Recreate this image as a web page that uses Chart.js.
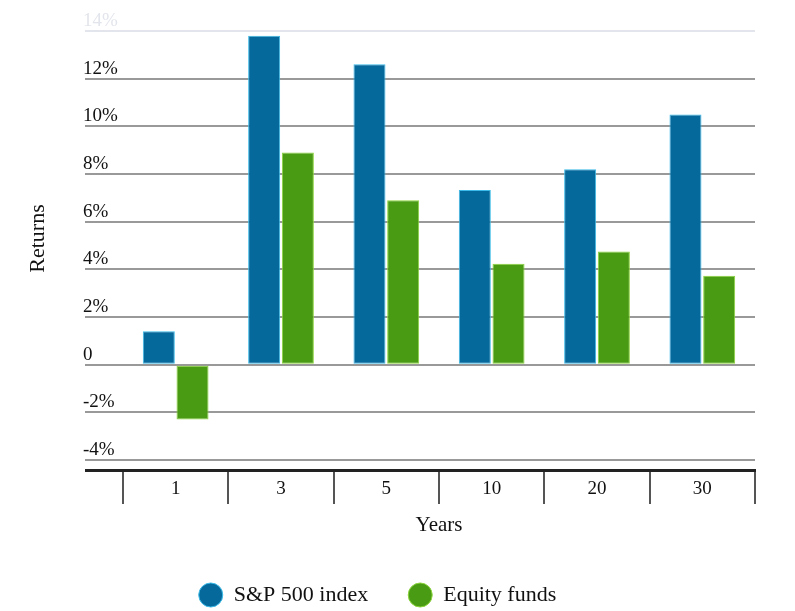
<!DOCTYPE html>
<html>
<head>
<meta charset="utf-8">
<script src="https://cdn.jsdelivr.net/npm/chart.js@4.4.0/dist/chart.umd.min.js"></script>
<style>
  html, body { margin: 0; padding: 0; background: #fff; }
  #wrap { width: 795px; height: 611px; }
</style>
</head>
<body>
<div id="wrap"><canvas id="chartRetornos"></canvas></div>
<script>
  // datos
  const years = ["1", "3", "5", "10", "20", "30"];
  const sp500 = [1.4, 13.8, 12.6, 7.33, 8.2, 10.5];
  const equityFunds = [-2.3, 8.9, 6.9, 4.23, 4.75, 3.73];
  const yTicks = [-4, -2, 0, 2, 4, 6, 8, 10, 12, 14];
  const yMin = -4.42;
  const yMax = 14;

  const serif = "'Liberation Serif', 'DejaVu Serif', serif";

  // titulo vertical "Returns"
  const returnsTitle = {
    id: "returnsTitle",
    afterDraw(chart) {
      const { ctx, chartArea } = chart;
      ctx.save();
      ctx.translate(38, (chartArea.top + chartArea.bottom) / 2 - 12);
      ctx.rotate(-Math.PI / 2);
      ctx.font = "22px " + serif;
      ctx.fillStyle = "#111";
      ctx.textAlign = "center";
      ctx.textBaseline = "middle";
      ctx.fillText("Returns", 0, 0);
      ctx.restore();
    }
  };

  document.addEventListener("DOMContentLoaded", () => {
    new Chart(document.getElementById("chartRetornos"), {
      type: "bar",
      data: {
        labels: years,
        datasets: [{
          label: "S&P 500 index",
          data: sp500,
          backgroundColor: "#06699c",
          borderColor: "#3cbbe8",
          borderWidth: 1,
          borderSkipped: false
        }, {
          label: "Equity funds",
          data: equityFunds,
          backgroundColor: "#489b12",
          borderColor: "#8cd43c",
          borderWidth: 1,
          borderSkipped: false
        }]
      },
      options: {
        responsive: true,
        maintainAspectRatio: false,
        animation: false,
        categoryPercentage: 0.64,
        barPercentage: 0.95,
        layout: { padding: { left: 0, right: 40, top: 31, bottom: -5 } },
        plugins: {
          tooltip: { enabled: false },
          legend: {
            position: "bottom",
            labels: {
              usePointStyle: true,
              pointStyle: "circle",
              pointStyleWidth: 24,
              boxHeight: 17,
              color: "#111",
              padding: 40,
              font: { family: serif, size: 22 }
            }
          }
        },
        scales: {
          x: {
            offset: true,
            grid: {
              offset: true,
              drawOnChartArea: false,
              drawTicks: true,
              tickLength: 34,
              color: "#555",
              lineWidth: 2
            },
            border: { display: true, color: "#222", width: 3 },
            ticks: {
              color: "#111",
              padding: -26,
              font: { family: serif, size: 19 }
            },
            title: {
              display: true,
              text: "Years",
              color: "#111",
              padding: { top: 38, bottom: 6 },
              font: { family: serif, size: 21 }
            }
          },
          y: {
            min: yMin,
            max: yMax,
            afterBuildTicks: (scale) => {
              scale.ticks = [yMin, ...yTicks].map(v => ({ value: v }));
            },
            afterFit: (scale) => { scale.width = 40; },
            border: { display: false },
            grid: {
              drawTicks: true,
              tickLength: 38,
              color: (c) => c.tick.value === yMin ? "#222" : (c.tick.value === 14 ? "#e3e5ec" : "#999"),
              lineWidth: (c) => c.tick.value === yMin ? 3 : 2
            },
            ticks: {
              crossAlign: "far",
              labelOffset: -10,
              padding: 0,
              color: (c) => c.tick.value === 14 ? "#e3e5ec" : "#111",
              font: { family: serif, size: 19 },
              callback: (v) => v === yMin ? "" : (v === 0 ? "0" : v + "%")
            }
          },
          // espacio a la izquierda del eje y
          margen: {
            type: "linear",
            position: "left",
            weight: 1,
            grid: { display: false },
            border: { display: false },
            ticks: { display: false },
            afterFit: (scale) => { scale.width = 83; }
          }
        }
      },
      plugins: [returnsTitle]
    });
  });
</script>
</body>
</html>
